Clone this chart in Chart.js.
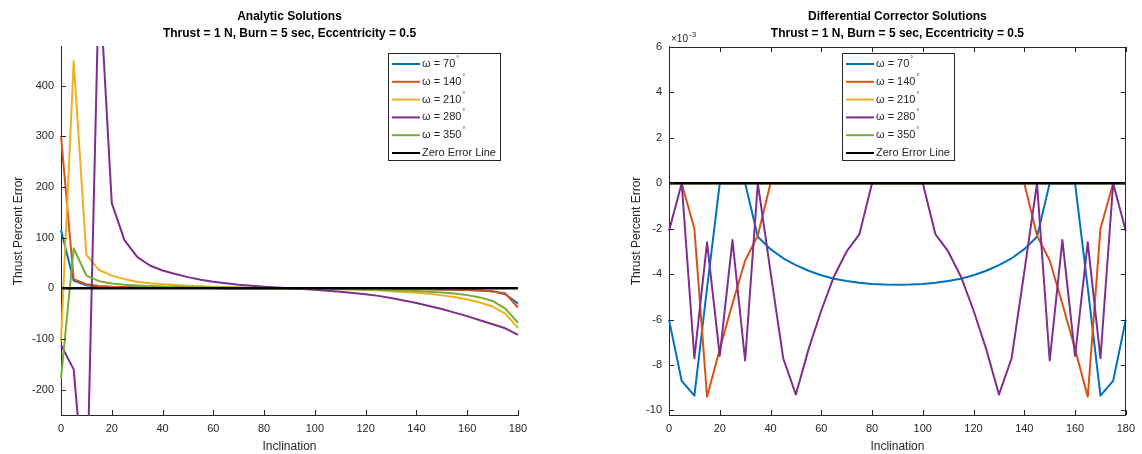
<!DOCTYPE html>
<html>
<head>
<meta charset="utf-8">
<script src="https://cdn.jsdelivr.net/npm/chart.js@4.4.1/dist/chart.umd.min.js"></script>
<style>
html,body{margin:0;padding:0;background:#fff;}
#wrap{position:relative;width:1142px;height:454px;overflow:hidden;}
.box{position:absolute;top:0;height:454px;}
#left{left:0;width:560px;}
#right{left:560px;width:582px;}
</style>
</head>
<body>
<div id="wrap">
  <div class="box" id="left"><canvas id="c1"></canvas></div>
  <div class="box" id="right"><canvas id="c2"></canvas></div>
</div>
<script>
// inclination samples (deg)
var inclination = [0,5,10,15,20,25,30,35,40,45,50,55,60,65,70,75,80,85,90,95,100,105,110,115,120,125,130,135,140,145,150,155,160,165,170,175,180];
var omegaLabels = ['70','140','210','280','350'];
var seriesColors = ['#0072BD','#D95319','#EDB120','#7E2F8E','#77AC30'];

// analytic solutions, thrust percent error
var analytic70  = [115,15,6,3.5,2.5,2,1.5,1.2,1,0.8,0.6,0.5,0.4,0.3,0.2,0.1,0.05,0,0,-0.1,-0.2,-0.3,-0.4,-0.5,-0.6,-0.8,-1,-1.2,-1.5,-1.8,-2.2,-2.7,-3.3,-4.2,-6,-12,-30];
var analytic140 = [300,18,8,4.5,3,2.2,1.7,1.3,1,0.8,0.6,0.5,0.4,0.3,0.2,0.1,0.05,0,0,-0.1,-0.2,-0.3,-0.4,-0.5,-0.6,-0.8,-1,-1.2,-1.5,-1.8,-2.2,-2.8,-3.5,-4.5,-6.5,-10,-38];
var analytic210 = [-105,448,66,36,25,18,13,10,8,6.5,5,4,3.2,2.5,1.8,1.2,0.7,0.3,0,-0.4,-0.8,-1.3,-1.8,-2.5,-3.3,-4.5,-6,-7.5,-9,-11,-14,-17,-22,-28,-36,-50,-78];
var analytic280 = [-112,-160,-450,620,168,95,62,45,35,28,22,17,13,10,7,5,3,1.5,0,-1.5,-3,-5,-7,-9.5,-12,-15,-19,-24,-29,-35,-41,-48,-55,-63,-71,-79,-92];
var analytic350 = [-178,79,25,14,9.5,7,5.5,4.3,3.5,2.8,2.3,1.8,1.4,1.1,0.8,0.5,0.3,0.1,0,-0.3,-0.6,-1,-1.4,-1.9,-2.4,-3,-3.7,-4.6,-5.6,-7,-8.5,-10.5,-13.5,-18,-25,-40,-68];

// differential corrector solutions, thrust percent error (x 10^-3)
var corrector70  = [-6,-8.7,-9.35,-4.6,0,0,0,-2.35,-2.9,-3.3,-3.6,-3.85,-4.05,-4.2,-4.3,-4.38,-4.43,-4.46,-4.47,-4.46,-4.43,-4.38,-4.3,-4.2,-4.05,-3.85,-3.6,-3.3,-2.9,-2.35,0,0,0,-4.6,-9.35,-8.7,-6];
var corrector140 = [0,0,-2,-9.4,-7.3,-5.3,-3.4,-2.3,0,0,0,0,0,0,0,0,0,0,0,0,0,0,0,0,0,0,0,0,0,-2.3,-3.4,-5.3,-7.3,-9.4,-2,0,0];
var corrector210 = [0,0,0,0,0,0,0,0,0,0,0,0,0,0,0,0,0,0,0,0,0,0,0,0,0,0,0,0,0,0,0,0,0,0,0,0,0];
var corrector280 = [-2.1,0,-7.7,-2.6,-7.6,-2.5,-7.8,0,-3.9,-7.7,-9.3,-7.3,-5.6,-4.1,-3,-2.25,0,0,0,0,0,-2.25,-3,-4.1,-5.6,-7.3,-9.3,-7.7,-3.9,0,-7.8,-2.5,-7.6,-2.6,-7.7,0,-2.1];
var corrector350 = [0,0,0,0,0,0,0,0,0,0,0,0,0,0,0,0,0,0,0,0,0,0,0,0,0,0,0,0,0,0,0,0,0,0,0,0,0];

var zeroLineX = [0,180];
var zeroLineY = [0,0];

var xTicks = [0,20,40,60,80,100,120,140,160,180];
var yTicksAnalytic = [-200,-100,0,100,200,300,400];
var yTicksCorrector = [-10,-8,-6,-4,-2,0,2,4,6];

var FONT = "'Liberation Sans', Arial, Helvetica, sans-serif";
var AXIS_COLOR = '#262626';
Chart.defaults.font.family = FONT;

// matlab like decorations: inward ticks, box, boxed legend, exponent
var matlabAxes = {
  id: 'matlabAxes',
  afterDraw: function(chart, args, opts) {
    var ctx = chart.ctx, a = chart.chartArea;
    var xs = chart.scales.x, ys = chart.scales.y;
    ctx.save();
    ctx.strokeStyle = AXIS_COLOR;
    ctx.lineWidth = 1;
    function line(x1, y1, x2, y2) {
      ctx.beginPath(); ctx.moveTo(x1, y1); ctx.lineTo(x2, y2); ctx.stroke();
    }
    xs.ticks.forEach(function(t) {
      var px = Math.round(xs.getPixelForValue(t.value)) + 0.5;
      line(px, a.bottom, px, a.bottom - 5);
      if (opts.box) line(px, a.top, px, a.top + 5);
    });
    ys.ticks.forEach(function(t) {
      var py = Math.round(ys.getPixelForValue(t.value)) + 0.5;
      line(a.left, py, a.left + 5, py);
      if (opts.box) line(a.right, py, a.right - 5, py);
    });
    if (opts.box) {
      line(a.left, Math.round(a.top) + 0.5, a.right, Math.round(a.top) + 0.5);
      line(Math.round(a.right) - 0.5, a.top, Math.round(a.right) - 0.5, a.bottom);
    }

    // exponent label over y axis
    if (opts.exponent) {
      ctx.fillStyle = AXIS_COLOR;
      ctx.textBaseline = 'alphabetic';
      ctx.textAlign = 'left';
      ctx.font = '10px ' + FONT;
      var ex = a.left + 2, ey = a.top - 5;
      ctx.fillText('\u00d710', ex, ey);
      var w = ctx.measureText('\u00d710').width;
      ctx.font = '8px ' + FONT;
      ctx.fillText(opts.exponent, ex + w + 1, ey - 5);
    }

    // legend
    var ds = chart.data.datasets;
    var bw = 112, rowH = 17.8, bh = 107;
    var x0 = opts.legend === 'n' ? Math.round((a.left + a.right) / 2 - bw / 2 + 1) : Math.round(a.right - 18 - bw);
    var y0 = Math.round(a.top + 6);
    ctx.fillStyle = '#fff';
    ctx.fillRect(x0, y0, bw, bh);
    ctx.strokeStyle = AXIS_COLOR;
    ctx.lineWidth = 1;
    ctx.strokeRect(x0 + 0.5, y0 + 0.5, bw, bh);
    ctx.textBaseline = 'middle';
    ds.forEach(function(d, i) {
      var cy = y0 + 11 + i * rowH;
      ctx.strokeStyle = d.borderColor;
      ctx.lineWidth = 2;
      line(x0 + 4, cy, x0 + 32, cy);
      ctx.fillStyle = AXIS_COLOR;
      ctx.font = '11px ' + FONT;
      var txt = d.label;
      if (txt.charAt(txt.length - 1) === '\u00b0') {
        var main = txt.slice(0, -1);
        ctx.fillText(main, x0 + 34, cy);
        var mw = ctx.measureText(main).width;
        ctx.font = '7px ' + FONT;
        ctx.fillText('\u00b0', x0 + 35 + mw, cy - 5);
      } else {
        ctx.fillText(txt, x0 + 34, cy);
      }
    });
    ctx.restore();
  }
};

function points(xv, yv) {
  return xv.map(function(x, i) { return {x: x, y: yv[i]}; });
}

function makeDatasets(list) {
  var sets = list.map(function(vals, i) {
    return {
      label: '\u03c9 = ' + omegaLabels[i] + '\u00b0',
      data: points(inclination, vals),
      borderColor: seriesColors[i],
      backgroundColor: seriesColors[i],
      borderWidth: 2,
      pointRadius: 0,
      tension: 0,
      borderJoinStyle: 'round',
      clip: 1,
      order: 10 - i
    };
  });
  sets.push({
    label: 'Zero Error Line',
    data: points(zeroLineX, zeroLineY),
    borderColor: '#000000',
    backgroundColor: '#000000',
    borderWidth: 2.5,
    pointRadius: 0,
    clip: 1,
    order: 0
  });
  return sets;
}

function makeChart(canvasId, cfg) {
  return new Chart(document.getElementById(canvasId), {
    type: 'line',
    data: {datasets: makeDatasets(cfg.series)},
    options: {
      responsive: true,
      maintainAspectRatio: false,
      animation: false,
      devicePixelRatio: 1,
      layout: {padding: {left: 0, right: cfg.padRight, top: 0, bottom: 0}},
      plugins: {
        legend: {display: false},
        tooltip: {enabled: false},
        title: {
          display: true,
          fullSize: false,
          text: [cfg.title, 'Thrust = 1 N, Burn = 5 sec, Eccentricity = 0.5'],
          color: '#000',
          font: {size: 12, weight: 'bold', lineHeight: 1.4},
          padding: {top: 8.6, bottom: 4.8}
        },
        matlabAxes: {box: cfg.box, legend: cfg.legend, exponent: cfg.exponent}
      },
      scales: {
        x: {
          type: 'linear',
          min: 0, max: 180,
          afterBuildTicks: function(s) { s.ticks = xTicks.map(function(v) { return {value: v}; }); },
          afterFit: function(s) { s.height = 39; },
          grid: {display: false, drawTicks: false},
          border: {display: true, color: AXIS_COLOR, width: 1},
          ticks: {padding: 7, color: AXIS_COLOR, font: {size: 11}, maxRotation: 0, autoSkip: false},
          title: {display: true, text: 'Inclination', color: AXIS_COLOR, font: {size: 12}, padding: {top: 0, bottom: 0}}
        },
        y: {
          type: 'linear',
          min: cfg.yMin, max: cfg.yMax,
          afterBuildTicks: function(s) { s.ticks = cfg.yTicks.map(function(v) { return {value: v}; }); },
          afterFit: function(s) { s.width = cfg.yWidth; },
          grid: {display: false, drawTicks: false},
          border: {display: true, color: AXIS_COLOR, width: 1},
          ticks: {padding: 7, color: AXIS_COLOR, font: {size: 11}, autoSkip: false},
          title: {display: true, text: 'Thrust Percent Error', color: AXIS_COLOR, font: {size: 12}, padding: {top: cfg.yTitlePad, bottom: 0}}
        }
      }
    },
    plugins: [matlabAxes]
  });
}

makeChart('c1', {
  title: 'Analytic Solutions',
  series: [analytic70, analytic140, analytic210, analytic280, analytic350],
  yMin: -250, yMax: 476, yTicks: yTicksAnalytic,
  yWidth: 61, yTitlePad: 11, padRight: 42,
  box: false, legend: 'ne', exponent: null
});

makeChart('c2', {
  title: 'Differential Corrector Solutions',
  series: [corrector70, corrector140, corrector210, corrector280, corrector350],
  yMin: -10.2, yMax: 6, yTicks: yTicksCorrector,
  yWidth: 109, yTitlePad: 69, padRight: 12,
  box: true, legend: 'n', exponent: '-3'
});
</script>
</body>
</html>
